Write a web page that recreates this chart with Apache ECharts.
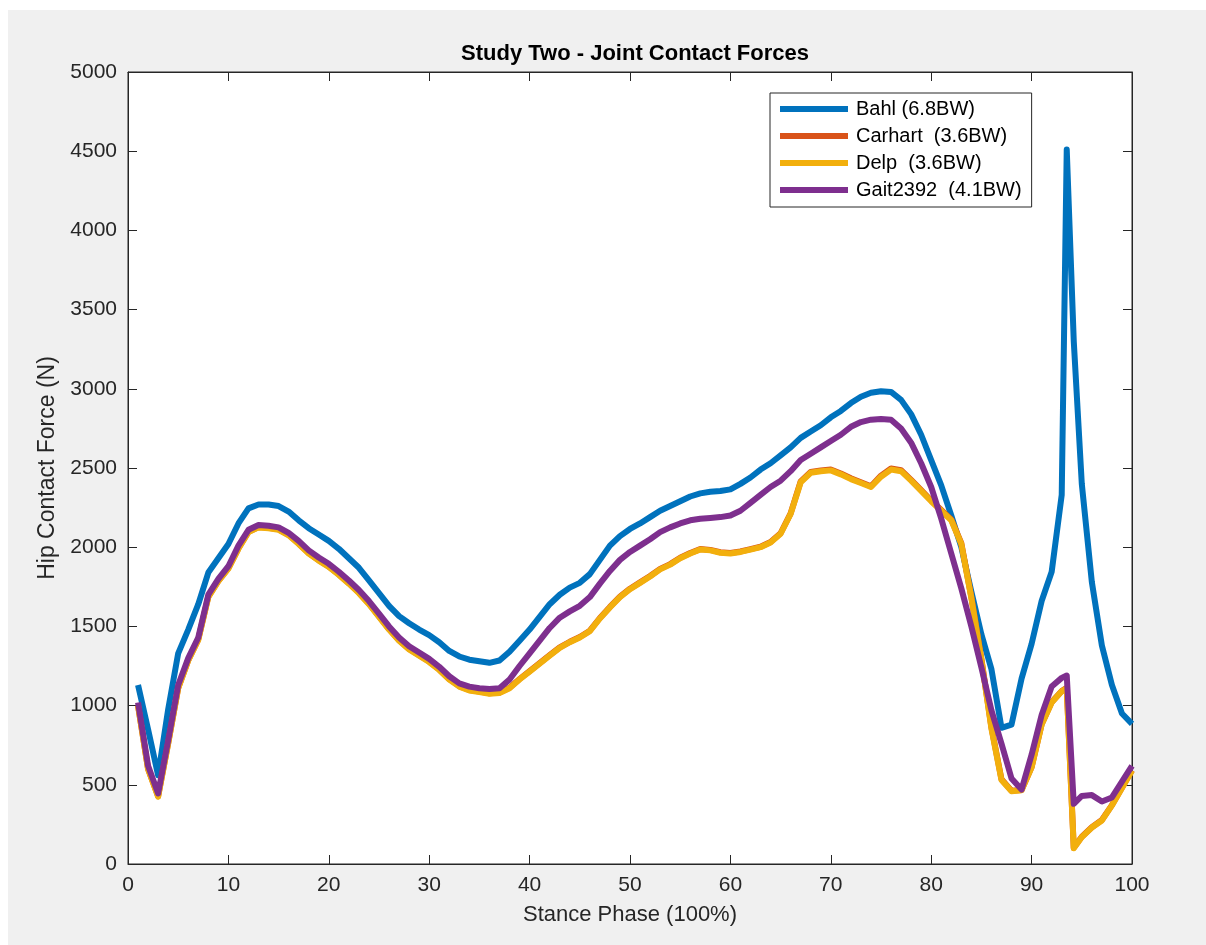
<!DOCTYPE html>
<html>
<head>
<meta charset="utf-8">
<script src="https://cdn.jsdelivr.net/npm/echarts@6/dist/echarts.min.js"></script>
<style>
  html, body { margin: 0; padding: 0; background: #ffffff; }
  #chart { position: absolute; left: 8px; top: 10px; width: 1198px; height: 935px; }
</style>
</head>
<body>
<div id="chart"></div>
<script>
// Stance phase sample positions (%)
const stance = [1,2,3,4,5,6,7,8,9,10,11,12,13,14,15,16,17,18,19,20,
  21,22,23,24,25,26,27,28,29,30,31,32,33,34,35,36,37,38,39,40,
  41,42,43,44,45,46,47,48,49,50,51,52,53,54,55,56,57,58,59,60,
  61,62,63,64,65,66,67,68,69,70,71,72,73,74,75,76,77,78,79,80,
  81,82,83,84,85,86,87,88,89,90,91,92,93,93.5,94.2,95,96,97,98,99,100];

const seriesNames = ['Bahl (6.8BW)', 'Carhart  (3.6BW)', 'Delp  (3.6BW)', 'Gait2392  (4.1BW)'];

const bahl = [1130,850,560,975,1330,1480,1640,1840,1930,2020,2150,2245,2270,2270,2260,2225,2170,2120,2080,2040,
  1990,1930,1870,1790,1710,1630,1565,1520,1480,1445,1400,1345,1310,1290,1280,1270,1285,1340,1410,1480,
  1560,1640,1700,1745,1775,1830,1920,2010,2070,2115,2150,2190,2230,2260,2290,2320,2340,2350,2355,2365,
  2400,2440,2490,2530,2580,2630,2690,2730,2770,2820,2860,2910,2950,2975,2985,2980,2930,2840,2710,2550,
  2390,2200,2000,1720,1450,1230,860,880,1170,1390,1660,1845,2330,4510,3300,2400,1780,1380,1130,950,885];

const carhart = [1000,600,428,762,1112,1287,1418,1688,1788,1868,1993,2098,2128,2123,2113,2078,2023,1963,1918,1878,
  1828,1773,1713,1643,1563,1483,1413,1358,1318,1278,1228,1168,1123,1098,1088,1078,1083,1113,1168,1218,
  1268,1318,1368,1403,1433,1473,1553,1623,1688,1738,1778,1818,1863,1893,1933,1963,1988,1983,1968,1963,
  1973,1988,2003,2033,2088,2213,2415,2475,2485,2490,2465,2435,2410,2385,2452,2497,2486,2425,2360,2295,
  2235,2175,2025,1685,1295,862,535,463,467,612,882,1022,1092,1113,102,172,232,278,372,482,592];

const delp = [1000,600,425,760,1110,1285,1415,1685,1785,1865,1990,2095,2125,2120,2110,2075,2020,1960,1915,1875,
  1825,1770,1710,1640,1560,1480,1410,1355,1315,1275,1225,1165,1120,1095,1085,1075,1080,1110,1165,1215,
  1265,1315,1365,1400,1430,1470,1550,1620,1685,1735,1775,1815,1860,1890,1930,1960,1985,1980,1965,1960,
  1970,1985,2000,2030,2085,2210,2410,2470,2480,2485,2460,2430,2405,2380,2445,2490,2480,2420,2355,2290,
  2230,2170,2020,1680,1290,855,530,460,465,610,880,1020,1090,1110,100,170,230,275,370,480,590];

const gait2392 = [1020,620,445,780,1130,1300,1430,1700,1800,1880,2010,2110,2140,2135,2125,2090,2040,1980,1935,1895,
  1845,1790,1730,1660,1580,1500,1430,1375,1335,1295,1245,1185,1140,1120,1110,1105,1110,1165,1250,1330,
  1410,1490,1555,1595,1630,1685,1770,1850,1920,1970,2010,2050,2095,2125,2150,2170,2180,2185,2190,2200,
  2230,2280,2330,2380,2420,2480,2550,2590,2630,2670,2710,2760,2790,2805,2810,2805,2750,2660,2530,2380,
  2180,1960,1740,1500,1240,970,760,540,470,690,940,1120,1175,1190,380,430,435,395,420,520,620];

const xTicks = { min: 0, max: 100, interval: 10 };
const yTicks = { min: 0, max: 5000, interval: 500 };

const colors = ['#0072BD', '#D95319', '#F2AF0D', '#7E2F8E'];
const allValues = [bahl, carhart, delp, gait2392];

const chart = echarts.init(document.getElementById('chart'));
const fontFam = 'Helvetica, Arial, "Liberation Sans", sans-serif';
const axisColor = '#262626';

function baseAxis(extra) {
  return Object.assign({
    type: 'value',
    splitLine: { show: false },
    axisLine: { show: true, onZero: false, lineStyle: { color: axisColor, width: 1 } },
    axisTick: { show: true, inside: true, length: 9, lineStyle: { color: axisColor, width: 1 } },
  }, extra);
}

const plainNum = v => String(v);

const option = {
  backgroundColor: '#f0f0f0',
  animation: false,
  title: {
    text: 'Study Two - Joint Contact Forces',
    left: 622,
    textAlign: 'center',
    top: 28,
    textStyle: { fontFamily: fontFam, fontSize: 22, fontWeight: 'bold', color: '#000' }
  },
  legend: {
    data: seriesNames,
    orient: 'vertical',
    left: 762,
    top: 83,
    icon: 'rect',
    itemWidth: 68,
    itemHeight: 6,
    itemGap: 7,
    padding: [6, 10, 7, 10],
    backgroundColor: '#ffffff',
    borderColor: axisColor,
    borderWidth: 1,
    textStyle: { fontFamily: fontFam, fontSize: 20, color: '#000', lineHeight: 20, padding: [0, 0, 0, 3] }
  },
  grid: {
    left: 120, top: 62, width: 1004, height: 792,
    show: true, backgroundColor: '#ffffff', borderWidth: 1, borderColor: axisColor
  },
  xAxis: [
    baseAxis({
      position: 'bottom', min: xTicks.min, max: xTicks.max, interval: xTicks.interval,
      name: 'Stance Phase (100%)', nameLocation: 'middle', nameGap: 40,
      nameTextStyle: { fontFamily: fontFam, fontSize: 22, color: axisColor },
      axisLabel: { fontFamily: fontFam, fontSize: 21, color: axisColor, margin: 11, showMinLabel: true, showMaxLabel: true, formatter: plainNum }
    }),
    baseAxis({
      position: 'top', min: xTicks.min, max: xTicks.max, interval: xTicks.interval,
      axisLabel: { show: false }
    })
  ],
  yAxis: [
    baseAxis({
      position: 'left', min: yTicks.min, max: yTicks.max, interval: yTicks.interval,
      name: 'Hip Contact Force (N)', nameLocation: 'middle', nameGap: 67,
      nameTextStyle: { fontFamily: fontFam, fontSize: 23, color: axisColor },
      axisLabel: { fontFamily: fontFam, fontSize: 21, color: axisColor, margin: 11, showMinLabel: true, showMaxLabel: true, formatter: plainNum }
    }),
    baseAxis({
      position: 'right', min: yTicks.min, max: yTicks.max, interval: yTicks.interval,
      axisLabel: { show: false }
    })
  ],
  series: seriesNames.map((name, i) => ({
    name: name,
    type: 'line',
    xAxisIndex: 0,
    yAxisIndex: 0,
    symbol: 'none',
    showSymbol: false,
    smooth: false,
    color: colors[i],
    lineStyle: { width: 6, color: colors[i], join: 'round', cap: 'butt' },
    itemStyle: { color: colors[i] },
    data: stance.map((x, j) => [x, allValues[i][j]])
  }))
};
chart.setOption(option);
</script>
</body>
</html>
